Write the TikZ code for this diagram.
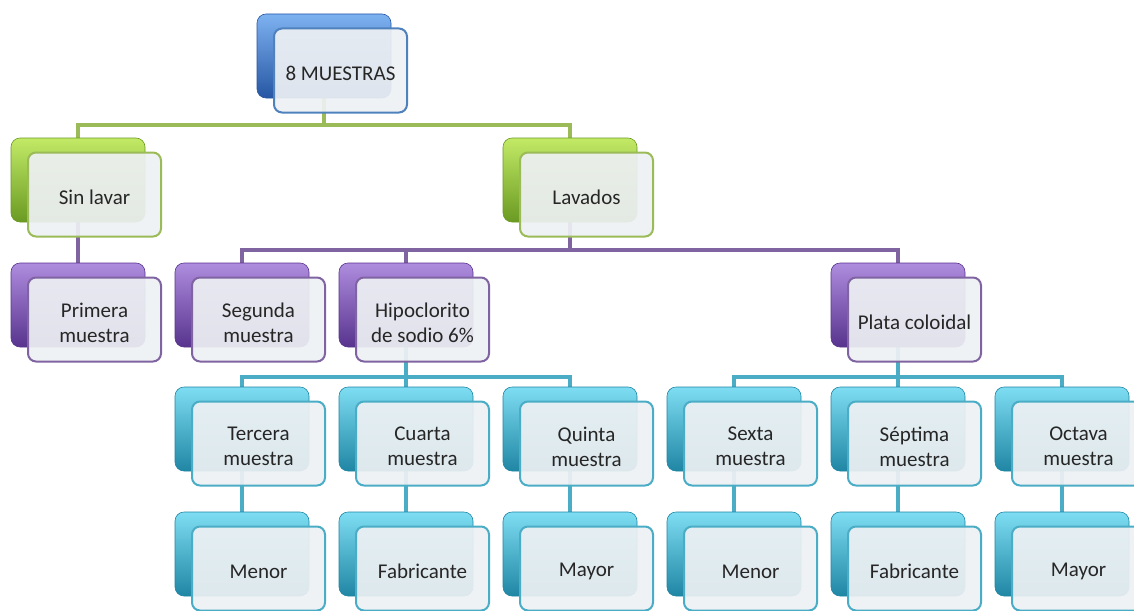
\documentclass[tikz,border=0pt]{standalone}
\usepackage{fontspec}
\setmainfont{Carlito}
\usetikzlibrary{calc}
\pgfdeclarelayer{bg}
\pgfsetlayers{bg,main}
\definecolor{blueL}{HTML}{7DB2F0}\definecolor{blueM}{HTML}{3F7FD6}\definecolor{blueD}{HTML}{2656A4}\definecolor{blueB}{HTML}{4F81BD}
\definecolor{greenL}{HTML}{C2EA66}\definecolor{greenM}{HTML}{94C93A}\definecolor{greenD}{HTML}{6A9A22}\definecolor{greenB}{HTML}{9BBB59}
\definecolor{purpleL}{HTML}{AE8CDE}\definecolor{purpleM}{HTML}{7F55B8}\definecolor{purpleD}{HTML}{58348E}\definecolor{purpleB}{HTML}{8064A2}
\definecolor{cyanL}{HTML}{7EDDF2}\definecolor{cyanM}{HTML}{3BB2D2}\definecolor{cyanD}{HTML}{1F86A4}\definecolor{cyanB}{HTML}{4BACC6}
\definecolor{frontfill}{HTML}{EEF1F4}
\tikzset{
  backbox/.style={shape=rectangle, rounded corners=9, minimum width=134, minimum height=84,
    top color=#1L, middle color=#1M, bottom color=#1D, draw=#1D, line width=0.6},
  frontbox/.style={shape=rectangle, rounded corners=8, minimum width=133, minimum height=84,
    fill=frontfill, fill opacity=0.92, draw=#1B, line width=2},
  txt/.style={align=center, text=black!85, font=\fontsize{21}{25}\selectfont},
  conn/.style={line width=4, draw=#1B}
}
\newcommand\ent[5]{%
  \node[backbox=#4] (b#1) at (#2,#3) {};
  \node[frontbox=#4] (#1) at (#2+16.5,#3+14.5) {};
  \node[txt, yshift=-3pt] (t#1) at (#1.center) {#5};
}
\begin{document}
\begin{tikzpicture}[x=1pt,y=-1pt]
\useasboundingbox (0,0) rectangle (1134,610);
\ent{top}{324}{56}{blue}{8 MUESTRAS}
\ent{sin}{78}{180}{green}{Sin lavar}
\ent{lav}{570}{180}{green}{Lavados}
\ent{pri}{78}{305}{purple}{Primera\\muestra}
\ent{seg}{242}{305}{purple}{Segunda\\muestra}
\ent{hip}{406}{305}{purple}{Hipoclorito\\de sodio 6\%}
\ent{pla}{898}{305}{purple}{Plata coloidal}
\ent{ter}{242}{429}{cyan}{Tercera\\muestra}
\ent{cua}{406}{429}{cyan}{Cuarta\\muestra}
\ent{qui}{570}{429}{cyan}{Quinta\\muestra}
\ent{sex}{734}{429}{cyan}{Sexta\\muestra}
\ent{sep}{898}{429}{cyan}{Séptima\\muestra}
\ent{oct}{1062}{429}{cyan}{Octava\\muestra}
\ent{men1}{242}{554}{cyan}{Menor}
\ent{fab1}{406}{554}{cyan}{Fabricante}
\ent{may1}{570}{554}{cyan}{Mayor}
\ent{men2}{734}{554}{cyan}{Menor}
\ent{fab2}{898}{554}{cyan}{Fabricante}
\ent{may2}{1062}{554}{cyan}{Mayor}
\begin{pgfonlayer}{bg}
  \draw[conn=green] (btop.south) -- ++(0,27) -| (bsin.north);
  \draw[conn=green] (btop.south) -- ++(0,27) -| (blav.north);
  \draw[conn=purple] (bsin.south) -- (bpri.north);
  \foreach \c in {seg,hip,pla}
    \draw[conn=purple] (blav.south) -- ++(0,28) -| (b\c.north);
  \foreach \c in {ter,cua,qui}
    \draw[conn=cyan] (bhip.south) -- ++(0,30) -| (b\c.north);
  \foreach \c in {sex,sep,oct}
    \draw[conn=cyan] (bpla.south) -- ++(0,30) -| (b\c.north);
  \draw[conn=cyan] (bter.south) -- (bmen1.north);
  \draw[conn=cyan] (bcua.south) -- (bfab1.north);
  \draw[conn=cyan] (bqui.south) -- (bmay1.north);
  \draw[conn=cyan] (bsex.south) -- (bmen2.north);
  \draw[conn=cyan] (bsep.south) -- (bfab2.north);
  \draw[conn=cyan] (boct.south) -- (bmay2.north);
\end{pgfonlayer}
\end{tikzpicture}
\end{document}
